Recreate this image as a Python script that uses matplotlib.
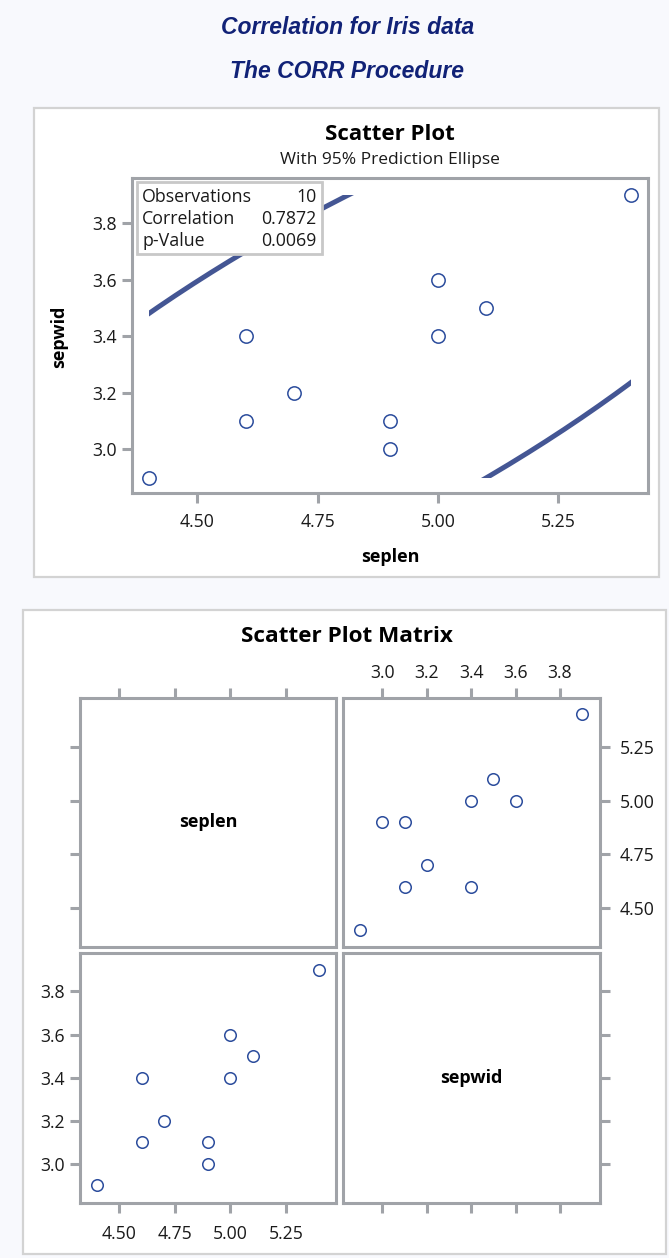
import numpy as np
import matplotlib.pyplot as plt
from matplotlib.patches import Rectangle

# first ten setosa rows of the iris data
seplen = [5.1, 4.9, 4.7, 4.6, 5.0, 5.4, 4.6, 5.0, 4.4, 4.9]
sepwid = [3.5, 3.0, 3.2, 3.1, 3.6, 3.9, 3.4, 3.4, 2.9, 3.1]

stat_names = ["Observations", "Correlation", "p-Value"]
stat_values = ["10", "0.7872", "0.0069"]

seplen_ticks = [4.50, 4.75, 5.00, 5.25]
sepwid_ticks = [3.0, 3.2, 3.4, 3.6, 3.8]

F_CRIT = 4.459  # F(0.95; 2, 8)

PAGE_BG = "#f8f9fd"
FRAME = "#d3d3d3"
AXC = "#a0a3a8"
TITLE_C = "#112277"
FIT_C = "#445694"
MARK_C = "#2b4c9c"
TXT = "#1a1a1a"

W, H = 669, 1258
TICK_FS = 12.7


def rect(x0, y0, x1, y1):
    # pixel box (top-left origin) -> figure fraction
    return [x0 / W, 1 - y1 / H, (x1 - x0) / W, (y1 - y0) / H]


def fx(x):
    return x / W


def fy(y):
    return 1 - y / H


def style(ax):
    for s in ax.spines.values():
        s.set_color(AXC)
        s.set_linewidth(2.2)
    ax.tick_params(color=AXC, width=2.2, length=7, labelsize=TICK_FS,
                   labelcolor=TXT, pad=4)
    ax.tick_params(axis="x", which="major", pad=7.5)
    ax.set_facecolor("white")


def panel(fig, x0, y0, x1, y1):
    fig.add_artist(Rectangle((fx(x0), fy(y1)), fx(x1) - fx(x0), fy(y0) - fy(y1),
                             transform=fig.transFigure, facecolor="white",
                             edgecolor=FRAME, linewidth=1.6, zorder=0))


plt.rcParams["font.family"] = ["Open Sans", "DejaVu Sans"]

fig = plt.figure(figsize=(W / 100, H / 100), dpi=100)
fig.patch.set_facecolor(PAGE_BG)

fig.text(fx(347.5), fy(27), "Correlation for Iris data", ha="center", va="center",
         fontsize=16.5, fontweight="bold", fontstyle="italic", color=TITLE_C,
         family="Liberation Sans")
fig.text(fx(347.5), fy(71), "The CORR Procedure", ha="center", va="center",
         fontsize=16.5, fontweight="bold", fontstyle="italic", color=TITLE_C,
         family="Liberation Sans")

x = np.array(seplen)
y = np.array(sepwid)
n = len(x)

# ---- scatter plot with 95% prediction ellipse ----
panel(fig, 34, 108, 659, 577)
fig.text(fx(390), fy(135), "Scatter Plot", ha="center", va="center",
         fontsize=16, fontweight="bold", color="black")
fig.text(fx(390), fy(160.5), "With 95% Prediction Ellipse", ha="center",
         va="center", fontsize=12.5, color=TXT)

ax = fig.add_axes(rect(132, 177.7, 648, 493.3))
style(ax)
ax.set_xlim(4.364, 5.436)
ax.set_ylim(2.845, 3.961)
ax.set_xticks(seplen_ticks)
ax.set_xticklabels([f"{v:.2f}" for v in seplen_ticks])
ax.set_yticks(sepwid_ticks)
ax.set_yticklabels([f"{v:.1f}" for v in sepwid_ticks])

mean = np.array([x.mean(), y.mean()])
cov = np.cov(x, y)
scale = 2 * (n - 1) * (n + 1) / (n * (n - 2)) * F_CRIT
t = np.linspace(0, 2 * np.pi, 600)
L = np.linalg.cholesky(cov * scale)
ell = L @ np.vstack([np.cos(t), np.sin(t)]) + mean[:, None]
line, = ax.plot(ell[0], ell[1], color=FIT_C, lw=3.6, solid_capstyle="butt")
# ellipse is only drawn inside the data range
clip = Rectangle((x.min(), y.min()), x.max() - x.min(), y.max() - y.min(),
                 transform=ax.transData)
line.set_clip_path(clip)

ax.plot(x, y, "o", ms=9.6, mfc="none", mec=MARK_C, mew=1.1, zorder=3)

fig.text(fx(59), fy(336.7), "sepwid", rotation=90, ha="center", va="center",
         fontsize=13, fontweight="bold", color="black")
fig.text(fx(390), fy(556.7), "seplen", ha="center", va="center",
         fontsize=13, fontweight="bold", color="black")

# statistics inset
fig.add_artist(Rectangle((fx(137), fy(254)), fx(321.8) - fx(137), fy(181.7) - fy(254),
                         transform=fig.transFigure, facecolor="white",
                         edgecolor="#c8c8c8", linewidth=2.0, zorder=5))
for i, (name, val) in enumerate(zip(stat_names, stat_values)):
    yy = fy(196.7 + 22.2 * i)
    fig.text(fx(142), yy, name, ha="left", va="center", fontsize=12.8,
             color=TXT, zorder=6)
    fig.text(fx(316.5), yy, val, ha="right", va="center", fontsize=12.8,
             color=TXT, zorder=6)

# ---- scatter plot matrix ----
panel(fig, 23, 610, 666, 1254)
fig.text(fx(347), fy(637), "Scatter Plot Matrix", ha="center", va="center",
         fontsize=16.2, fontweight="bold", color="black")

pad_l, pad_w = 0.077, 0.08
lim_l = (x.min() - pad_l, x.max() + pad_l)
lim_w = (y.min() - pad_w, y.max() + pad_w)

cols = [(80, 336.5), (342.5, 600)]
rows = [(697.7, 946.5), (952.7, 1202.7)]

# top-left: diagonal seplen
ax_tl = fig.add_axes(rect(cols[0][0], rows[0][0], cols[0][1], rows[0][1]))
style(ax_tl)
ax_tl.set_xlim(lim_l)
ax_tl.set_ylim(lim_l)
ax_tl.set_xticks(seplen_ticks)
ax_tl.set_yticks(seplen_ticks)
ax_tl.tick_params(top=True, bottom=False, labeltop=False, labelbottom=False,
                  left=True, labelleft=False)
ax_tl.text(0.5, 0.5, "seplen", transform=ax_tl.transAxes, ha="center",
           va="center", fontsize=13, fontweight="bold", color="black")

# top-right: seplen vs sepwid
ax_tr = fig.add_axes(rect(cols[1][0], rows[0][0], cols[1][1], rows[0][1]))
style(ax_tr)
ax_tr.set_xlim(lim_w)
ax_tr.set_ylim(lim_l)
ax_tr.set_xticks(sepwid_ticks)
ax_tr.set_xticklabels([f"{v:.1f}" for v in sepwid_ticks])
ax_tr.set_yticks(seplen_ticks)
ax_tr.set_yticklabels([f"{v:.2f}" for v in seplen_ticks])
ax_tr.tick_params(top=True, bottom=False, labeltop=True, labelbottom=False,
                  right=True, left=False, labelright=True, labelleft=False)
ax_tr.tick_params(axis="x", pad=4)
ax_tr.tick_params(axis="y", pad=7)
ax_tr.plot(y, x, "o", ms=8.3, mfc="none", mec=MARK_C, mew=1.1)

# bottom-left: sepwid vs seplen
ax_bl = fig.add_axes(rect(cols[0][0], rows[1][0], cols[0][1], rows[1][1]))
style(ax_bl)
ax_bl.set_xlim(lim_l)
ax_bl.set_ylim(lim_w)
ax_bl.set_xticks(seplen_ticks)
ax_bl.set_xticklabels([f"{v:.2f}" for v in seplen_ticks])
ax_bl.set_yticks(sepwid_ticks)
ax_bl.set_yticklabels([f"{v:.1f}" for v in sepwid_ticks])
ax_bl.tick_params(axis="x", pad=9)
ax_bl.plot(x, y, "o", ms=8.3, mfc="none", mec=MARK_C, mew=1.1)

# bottom-right: diagonal sepwid
ax_br = fig.add_axes(rect(cols[1][0], rows[1][0], cols[1][1], rows[1][1]))
style(ax_br)
ax_br.set_xlim(lim_w)
ax_br.set_ylim(lim_w)
ax_br.set_xticks(sepwid_ticks)
ax_br.set_yticks(sepwid_ticks)
ax_br.tick_params(labelbottom=False, right=True, left=False,
                  labelright=False, labelleft=False)
ax_br.text(0.5, 0.5, "sepwid", transform=ax_br.transAxes, ha="center",
           va="center", fontsize=13, fontweight="bold", color="black")

fig.savefig("out.png", dpi=100, facecolor=fig.get_facecolor())
